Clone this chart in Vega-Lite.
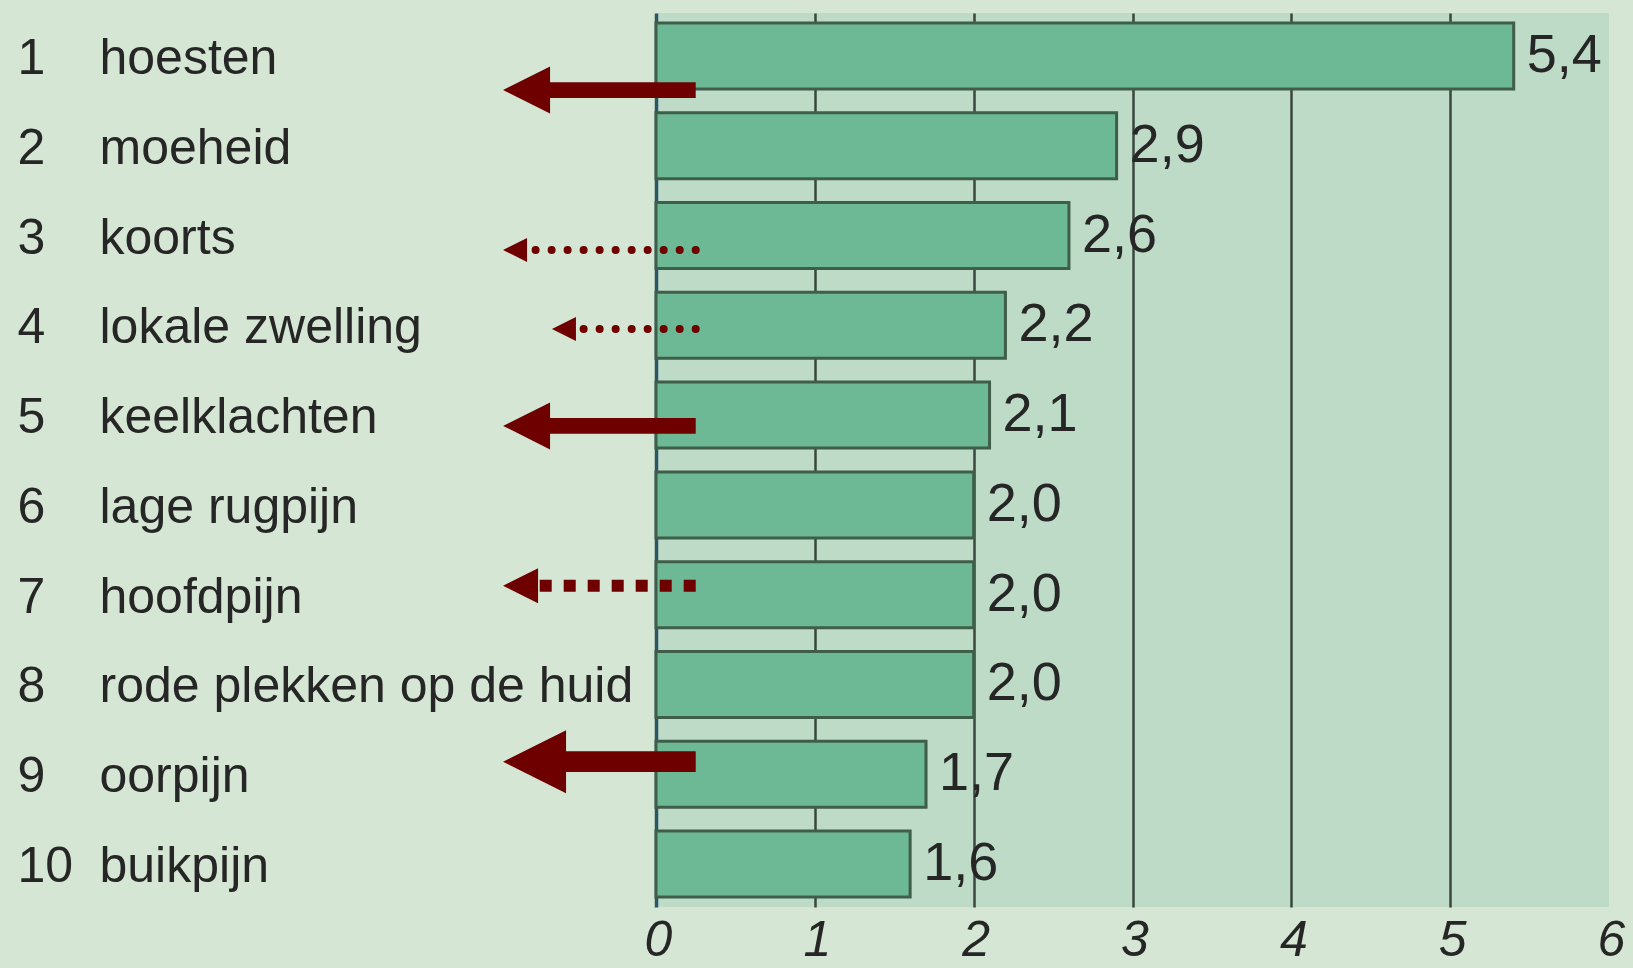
{
  "$schema": "https://vega.github.io/schema/vega-lite/v6.json",
  "width": 953,
  "height": 894,
  "autosize": {"type": "none"},
  "padding": {"left": 656, "top": 13, "right": 24, "bottom": 61},
  "background": "#d5e7d4",
  "config": {
    "view": {"fill": "#bddbc6", "stroke": null},
    "locale": {"number": {"decimal": ",", "thousands": ".", "grouping": [3], "currency": ["€ ", ""]}}
  },
  "datasets": {
    "symptomen": [
      {"rang": 1, "symptoom": "hoesten", "waarde": 5.4},
      {"rang": 2, "symptoom": "moeheid", "waarde": 2.9},
      {"rang": 3, "symptoom": "koorts", "waarde": 2.6},
      {"rang": 4, "symptoom": "lokale zwelling", "waarde": 2.2},
      {"rang": 5, "symptoom": "keelklachten", "waarde": 2.1},
      {"rang": 6, "symptoom": "lage rugpijn", "waarde": 2.0},
      {"rang": 7, "symptoom": "hoofdpijn", "waarde": 2.0},
      {"rang": 8, "symptoom": "rode plekken op de huid", "waarde": 2.0},
      {"rang": 9, "symptoom": "oorpijn", "waarde": 1.7},
      {"rang": 10, "symptoom": "buikpijn", "waarde": 1.6}
    ],
    "pijlen": [
      {"rang": 1, "rij": 1.38, "van": 0.25, "tot": -0.75, "punt": -0.963, "pijl": "vol"},
      {"rang": 3, "rij": 3.16, "van": 0.25, "tot": -0.77, "punt": -0.963, "pijl": "stippel"},
      {"rang": 4, "rij": 4.04, "van": 0.25, "tot": -0.46, "punt": -0.655, "pijl": "stippel"},
      {"rang": 5, "rij": 5.12, "van": 0.25, "tot": -0.75, "punt": -0.963, "pijl": "vol"},
      {"rang": 7, "rij": 6.9, "van": 0.25, "tot": -0.743, "punt": -0.963, "pijl": "blokjes"},
      {"rang": 9, "rij": 8.86, "van": 0.25, "tot": -0.75, "punt": -0.963, "pijl": "vol-groot"}
    ]
  },
  "layer": [
    {
      "data": {"name": "symptomen"},
      "mark": {"type": "bar", "fill": "#6db895", "stroke": "#3f5e4a", "strokeWidth": 3},
      "encoding": {
        "y": {
          "field": "symptoom", "type": "nominal", "sort": {"field": "rang", "op": "min"},
          "scale": {"type": "band", "paddingInner": 0.265, "paddingOuter": 0.111},
          "axis": {"orient": "left", "domain": false, "ticks": false, "tickSize": 0, "labelAlign": "left", "labelBaseline": "middle", "labelPadding": 557, "labelFontSize": 50, "labelFont": "Liberation Sans", "labelColor": "#262626", "labelLimit": 0, "labelOffset": 3, "title": null}
        },
        "x": {
          "field": "waarde", "type": "quantitative",
          "scale": {"domain": [0, 6], "nice": false, "zero": true},
          "axis": {
            "values": [0, 1, 2, 3, 4, 5, 6], "format": "d", "domain": false, "ticks": false, "grid": true,
            "gridColor": {"condition": {"test": "datum.value === 0", "value": "#2d5563"}, "value": "#3a463e"},
            "gridWidth": {"condition": {"test": "datum.value === 0", "value": 3.5}, "value": 2.5},
            "gridOpacity": {"condition": {"test": "datum.value === 6", "value": 0}, "value": 1},
            "labelFontSize": 50, "labelFontStyle": "italic", "labelFont": "Liberation Sans",
            "labelColor": "#262626", "labelPadding": 8, "labelOffset": 2, "labelFlush": false, "labelOverlap": false, "title": null
          }
        }
      }
    },
    {
      "data": {"name": "symptomen"},
      "mark": {"type": "text", "align": "left", "baseline": "middle", "dx": 13, "fontSize": 54, "font": "Liberation Sans", "color": "#262626"},
      "encoding": {
        "y": {
          "field": "rang", "type": "ordinal",
          "scale": {"type": "band", "paddingInner": 0.265, "paddingOuter": 0.111},
          "axis": {"orient": "left", "domain": false, "ticks": false, "tickSize": 0, "labelAlign": "left", "labelBaseline": "middle", "labelPadding": 639, "labelFontSize": 50, "labelFont": "Liberation Sans", "labelColor": "#262626", "labelOffset": 3, "title": null}
        },
        "x": {"field": "waarde", "type": "quantitative", "title": null},
        "text": {"field": "waarde", "type": "quantitative", "format": ".1f"}
      }
    },
    {
      "data": {"name": "pijlen"},
      "transform": [{"filter": "datum.pijl !== 'stippel'"}],
      "mark": {"type": "rule", "color": "#6e0000", "strokeCap": "butt"},
      "encoding": {
        "x": {"field": "van", "type": "quantitative", "title": null},
        "x2": {"field": "tot"},
        "y": {"field": "rij", "type": "quantitative", "scale": {"domain": [0.5215, 10.4785], "reverse": true, "nice": false, "zero": false}, "axis": null},
        "strokeWidth": {"field": "pijl", "type": "nominal", "scale": {"type": "ordinal", "domain": ["vol", "vol-groot", "blokjes"], "range": [15.7, 20.7, 12]}, "legend": null},
        "strokeDash": {"field": "pijl", "type": "nominal", "scale": {"type": "ordinal", "domain": ["vol", "vol-groot", "blokjes"], "range": [[1, 0], [1, 0], [12, 12]]}, "legend": null}
      }
    },
    {
      "data": {"name": "pijlen"},
      "transform": [{"filter": "datum.pijl === 'stippel'"}],
      "mark": {"type": "rule", "color": "#6e0000", "strokeCap": "round", "strokeWidth": 8, "strokeDash": [0.01, 16]},
      "encoding": {
        "x": {"field": "van", "type": "quantitative", "title": null},
        "x2": {"field": "tot"},
        "y": {"field": "rij", "type": "quantitative", "scale": {"domain": [0.5215, 10.4785], "reverse": true, "nice": false, "zero": false}, "axis": null}
      }
    },
    {
      "data": {"name": "pijlen"},
      "mark": {"type": "point", "shape": "M0,0L2,-1L2,1Z", "filled": true, "opacity": 1, "color": "#6e0000", "strokeWidth": 0},
      "encoding": {
        "x": {"field": "punt", "type": "quantitative", "title": null},
        "y": {"field": "rij", "type": "quantitative", "scale": {"domain": [0.5215, 10.4785], "reverse": true, "nice": false, "zero": false}, "axis": null},
        "size": {"field": "pijl", "type": "nominal", "scale": {"type": "ordinal", "domain": ["vol", "vol-groot", "stippel", "blokjes"], "range": [2209, 3969, 576, 1225]}, "legend": null}
      }
    }
  ],
  "resolve": {"scale": {"y": "independent"}, "axis": {"y": "independent"}}
}
